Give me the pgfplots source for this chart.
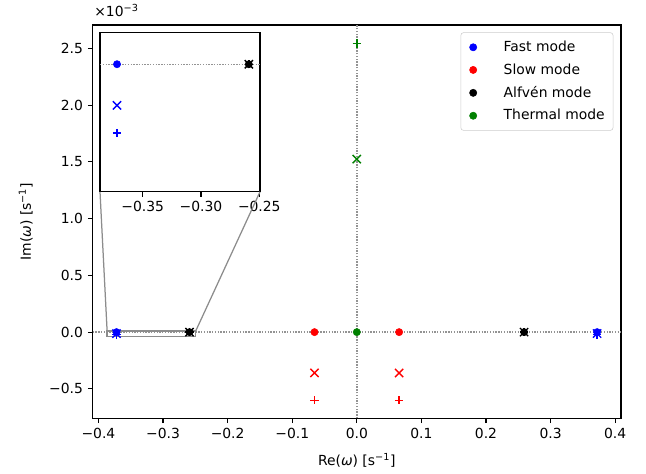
\documentclass[border=0pt]{standalone}
\usepackage{fontspec}
\setmainfont{DejaVu Sans}
\usepackage{pgfplots}
\usepackage{pgfplotstable}
\pgfplotsset{compat=1.18}
\definecolor{mplgreen}{RGB}{0,128,0}
\definecolor{zoomgray}{RGB}{140,140,140}

% imaginary parts of each marker type, per mode
\pgfplotstableread{
re dot cross plus
-0.372 0 -0.0129e-3 -0.0216e-3
0.372 0 -0.0129e-3 -0.0216e-3
}\fastmode
\pgfplotstableread{
re dot cross plus
-0.0655 0 -0.360e-3 -0.600e-3
0.0655 0 -0.360e-3 -0.600e-3
}\slowmode
\pgfplotstableread{
re dot cross plus
-0.259 0 0 0
0.259 0 0 0
}\alfvenmode
\pgfplotstableread{
re dot cross plus
0 0 1.525e-3 2.545e-3
}\thermalmode

\pgfplotsset{
  dotm/.style={only marks, mark=*, mark size=2.6pt, color=#1,
    legend image code/.code={\path (-4.7pt,0pt) (19.8pt,0pt);
      \draw[##1] plot coordinates {(0pt,0pt)};}},
  crossm/.style={only marks, mark=x, mark size=4.2pt, line width=1pt, color=#1, forget plot},
  plusm/.style={only marks, mark=+, mark size=3pt, line width=1pt, color=#1, forget plot},
  zeroline/.style={forget plot, gray!85, line width=1pt, dash pattern=on 1pt off 1pt},
  mplaxis/.style={
    scale only axis,
    tick align=outside,
    tick pos=left,
    major tick length=3.5pt,
    tick style={black, line width=0.8pt},
    axis line style={line width=0.8pt},
    font=\fontsize{10}{12}\selectfont,
    ticklabel style={font=\fontsize{10}{12}\selectfont},
  },
}

\newcommand\plotmodes{%
  \addplot[dotm=blue] table[x=re,y=dot] {\fastmode};
  \addplot[dotm=red] table[x=re,y=dot] {\slowmode};
  \addplot[dotm=black] table[x=re,y=dot] {\alfvenmode};
  \addplot[dotm=mplgreen] table[x=re,y=dot] {\thermalmode};
  \addplot[crossm=blue] table[x=re,y=cross] {\fastmode};
  \addplot[crossm=red] table[x=re,y=cross] {\slowmode};
  \addplot[crossm=black] table[x=re,y=cross] {\alfvenmode};
  \addplot[crossm=mplgreen] table[x=re,y=cross] {\thermalmode};
  \addplot[plusm=blue] table[x=re,y=plus] {\fastmode};
  \addplot[plusm=red] table[x=re,y=plus] {\slowmode};
  \addplot[plusm=black] table[x=re,y=plus] {\alfvenmode};
  \addplot[plusm=mplgreen] table[x=re,y=plus] {\thermalmode};
}

\begin{document}
\begin{tikzpicture}
\begin{axis}[
  mplaxis,
  name=main,
  width=380.4pt, height=283.2pt,
  xmin=-0.409, xmax=0.409,
  ymin=-0.760e-3, ymax=2.707e-3,
  scaled x ticks=false, scaled y ticks=false,
  xtick={-0.4,-0.3,-0.2,-0.1,0,0.1,0.2,0.3,0.4},
  xticklabels={−0.4,−0.3,−0.2,−0.1,0.0,0.1,0.2,0.3,0.4},
  ytick={-0.5e-3,0,0.5e-3,1e-3,1.5e-3,2e-3,2.5e-3},
  yticklabels={−0.5,0.0,0.5,1.0,1.5,2.0,2.5},
  xlabel={Re(\textit{ω}) [s\textsuperscript{−1}]},
  ylabel={Im(\textit{ω}) [s\textsuperscript{−1}]},
  xlabel shift=3.5pt,
  ylabel shift=5pt,
  legend style={at={(1,1)}, anchor=north east, xshift=-5.5pt, yshift=-5.3pt,
    draw=black!20, rounded corners=2pt, font=\fontsize{10}{12}\selectfont,
    row sep=3.2pt, inner xsep=4pt, inner ysep=4pt},
  legend cell align=left,
]
\addplot[zeroline] coordinates {(-0.409,0) (0.409,0)};
\addplot[zeroline] coordinates {(0,-0.760e-3) (0,2.707e-3)};
\plotmodes
\draw[zoomgray, line width=0.9pt] (axis cs:-0.3866,-0.04e-3) rectangle (axis cs:-0.2494,0.01e-3);
\coordinate (rtl) at (axis cs:-0.3866,0.01e-3);
\coordinate (rtr) at (axis cs:-0.2494,0.01e-3);
\legend{Fast mode,Slow mode,Alfvén mode,Thermal mode}
\end{axis}
\node[anchor=base west, inner sep=0pt, xshift=1pt, yshift=6pt] at (main.north west)
  {\fontsize{10}{12}\selectfont ×10\textsuperscript{−3}};
\begin{axis}[
  mplaxis,
  name=inset,
  at={(main.north west)}, anchor=north west, xshift=5.3pt, yshift=-5.3pt,
  width=115.2pt, height=114.8pt,
  xmin=-0.3866, xmax=-0.2494,
  ymin=-0.04e-3, ymax=0.01e-3,
  scaled x ticks=false, scaled y ticks=false,
  xtick={-0.35,-0.30,-0.25},
  xticklabels={−0.35,−0.30,−0.25},
  ytick=\empty,
  axis background/.style={fill=white},
]
\addplot[zeroline] coordinates {(-0.3866,0) (-0.2494,0)};
\plotmodes
\end{axis}
\draw[zoomgray, line width=0.9pt] (inset.south west) -- (rtl);
\draw[zoomgray, line width=0.9pt] (inset.south east) -- (rtr);
% page margins as in the reference
\path (main.south west) ++(-66.7pt,-39.4pt) coordinate (bbl);
\path (main.north east) ++(18pt,18pt) coordinate (bbr);
\path (bbl) rectangle (bbr);
\end{tikzpicture}
\end{document}
